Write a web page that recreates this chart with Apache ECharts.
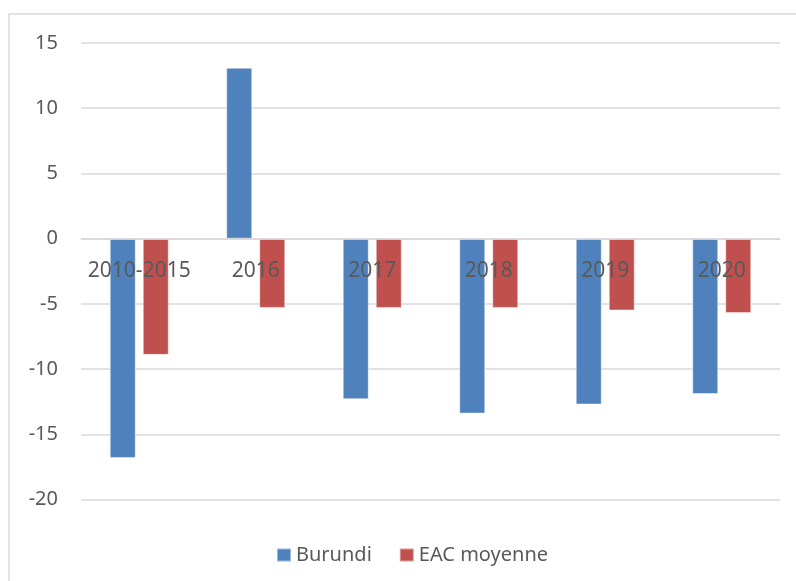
<!DOCTYPE html>
<html>
<head>
<meta charset="utf-8">
<script src="https://cdn.jsdelivr.net/npm/echarts@6/dist/echarts.min.js"></script>
<style>
  html, body { margin: 0; padding: 0; background: #fff; }
  #chart { width: 796px; height: 581px; }
</style>
</head>
<body>
<div id="chart"></div>
<script>
// Periods on the x axis
const categories = ['2010-2015', '2016', '2017', '2018', '2019', '2020'];
// Series values
const burundi = [-16.8, 13.1, -12.3, -13.4, -12.7, -11.9];
const eacMoyenne = [-8.9, -5.3, -5.3, -5.3, -5.5, -5.7];
// Value axis range
const yMin = -20;
const yMax = 15;
const yStep = 5;

const FONT = '"Noto Sans", "Liberation Sans", sans-serif';
const TEXT = '#595959';
const GRID = '#d9d9d9';

const GRID_TOP = 43;
const GRID_BOTTOM = 81.3;
const CHART_H = 581;

const chart = echarts.init(document.getElementById('chart'), null, { renderer: 'canvas' });

// Category axis sits on the zero line: shift it up from the grid bottom
const plotH = CHART_H - GRID_TOP - GRID_BOTTOM;
const zeroOffset = -plotH * (0 - yMin) / (yMax - yMin);

chart.setOption({
  backgroundColor: '#ffffff',
  animation: false,
  textStyle: { fontFamily: FONT },
  graphic: [{
    type: 'rect',
    silent: true,
    z: -10,
    shape: { x: 9, y: 14, width: 900, height: 700 },
    style: { fill: 'none', stroke: GRID, lineWidth: 1.5 }
  }],
  grid: { left: 81, right: 16, top: GRID_TOP, bottom: GRID_BOTTOM, containLabel: false },
  legend: {
    left: 271,
    top: 540,
    icon: 'rect',
    itemWidth: 14,
    itemHeight: 13,
    itemGap: 27,
    textStyle: { fontFamily: FONT, fontSize: 20, color: TEXT },
    data: ['Burundi', 'EAC moyenne']
  },
  xAxis: {
    type: 'category',
    data: categories,
    z: 10,
    offset: zeroOffset,
    axisLine: { show: true, onZero: false, lineStyle: { color: GRID, width: 1.5 } },
    axisTick: { show: false },
    axisLabel: { fontFamily: FONT, fontSize: 21, color: TEXT, margin: 22, interval: 0 },
    splitLine: { show: false }
  },
  yAxis: {
    type: 'value',
    min: yMin,
    max: yMax,
    interval: yStep,
    axisLine: { show: false },
    axisTick: { show: false },
    axisLabel: { fontFamily: FONT, fontSize: 20, color: TEXT, margin: 23 },
    splitLine: { lineStyle: { color: GRID, width: 1.5 } }
  },
  series: [
    {
      name: 'Burundi',
      type: 'bar',
      data: burundi,
      barWidth: 26,
      barGap: '27%',
      itemStyle: { color: '#4f81bd', borderColor: 'rgba(255,255,255,0.45)', borderWidth: 1 }
    },
    {
      name: 'EAC moyenne',
      type: 'bar',
      data: eacMoyenne,
      barWidth: 26,
      barGap: '27%',
      itemStyle: { color: '#c0504d', borderColor: 'rgba(255,255,255,0.45)', borderWidth: 1 }
    }
  ]
});
</script>
</body>
</html>
